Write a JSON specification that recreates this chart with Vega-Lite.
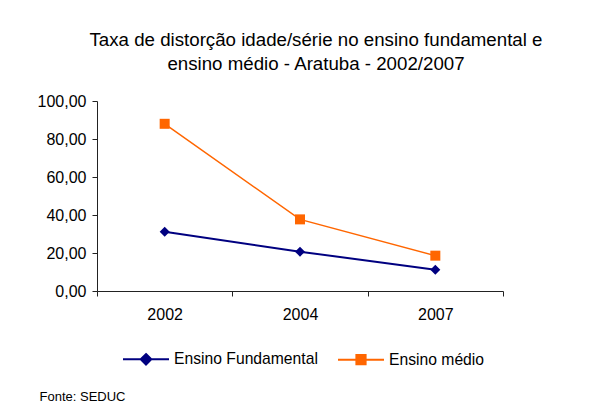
{
  "$schema": "https://vega.github.io/schema/vega-lite/v6.json",
  "width": 406,
  "height": 190,
  "autosize": {"type": "none"},
  "padding": {"left": 97, "top": 101, "right": 110, "bottom": 125},
  "background": "white",
  "config": {"font": "Liberation Sans", "view": {"stroke": null}},
  "title": {
    "text": ["Taxa de distorção idade/série no ensino fundamental e", "ensino médio - Aratuba - 2002/2007"],
    "fontSize": 18.7,
    "fontWeight": "normal",
    "color": "black",
    "lineHeight": 24,
    "anchor": "middle",
    "frame": "group",
    "dx": 16,
    "offset": 19
  },
  "data": {
    "values": [
      {"ano": "2002", "serie": "Ensino Fundamental", "taxa": 31.2},
      {"ano": "2004", "serie": "Ensino Fundamental", "taxa": 20.7},
      {"ano": "2007", "serie": "Ensino Fundamental", "taxa": 11.2},
      {"ano": "2002", "serie": "Ensino médio", "taxa": 88.0},
      {"ano": "2004", "serie": "Ensino médio", "taxa": 37.7},
      {"ano": "2007", "serie": "Ensino médio", "taxa": 18.6}
    ]
  },
  "encoding": {
    "x": {
      "field": "ano",
      "type": "ordinal",
      "scale": {"type": "band", "paddingInner": 0, "paddingOuter": 0},
      "axis": {
        "title": "Fonte: SEDUC",
        "titleFontSize": 13,
        "titleFontWeight": "normal",
        "titleColor": "black",
        "titleAnchor": "start",
        "titleAlign": "left",
        "titleBaseline": "middle",
        "titleX": -58,
        "titleY": 105,
        "labelAngle": 0,
        "labelFontSize": 16,
        "labelColor": "black",
        "labelPadding": 10,
        "tickBand": "extent",
        "tickSize": 5,
        "tickColor": "#222",
        "domainColor": "#222",
        "grid": false
      }
    },
    "y": {
      "field": "taxa",
      "type": "quantitative",
      "scale": {"domain": [0, 100]},
      "axis": {
        "title": null,
        "values": [0, 20, 40, 60, 80, 100],
        "labelExpr": "replace(format(datum.value, '.2f'), '.', ',')",
        "labelFontSize": 16,
        "labelColor": "black",
        "labelPadding": 6,
        "tickSize": 5,
        "tickColor": "#222",
        "domainColor": "#222",
        "grid": false
      }
    },
    "color": {
      "field": "serie",
      "type": "nominal",
      "scale": {"domain": ["Ensino Fundamental", "Ensino médio"], "range": ["#000080", "#FF6600"]},
      "legend": {
        "title": null,
        "orient": "none",
        "direction": "horizontal",
        "legendX": 25,
        "legendY": 234,
        "labelFontSize": 15.7,
        "labelColor": "black",
        "labelOffset": 4,
        "columnPadding": 16,
        "symbolSize": 2116,
        "symbolStrokeWidth": 2,
        "encode": {
          "symbols": {
            "update": {
              "shape": {"signal": "datum.value === 'Ensino Fundamental' ? 'M-1,0L1,0M0,-0.23L0.23,0L0,0.23L-0.23,0Z' : 'M-1,0L1,0M-0.2,-0.2L0.2,-0.2L0.2,0.2L-0.2,0.2Z'"},
              "fill": {"scale": "color", "field": "value"},
              "stroke": {"scale": "color", "field": "value"},
              "strokeWidth": {"value": 2},
              "opacity": {"value": 1}
            }
          }
        }
      }
    }
  },
  "layer": [
    {
      "mark": {"type": "line"},
      "encoding": {
        "strokeWidth": {
          "condition": {"test": "datum.serie === 'Ensino médio'", "value": 1.5},
          "value": 2
        }
      }
    },
    {
      "mark": {"type": "point", "filled": true, "opacity": 1, "size": 100},
      "encoding": {
        "shape": {
          "condition": {"test": "datum.serie === 'Ensino médio'", "value": "square"},
          "value": "diamond"
        }
      }
    }
  ]
}
